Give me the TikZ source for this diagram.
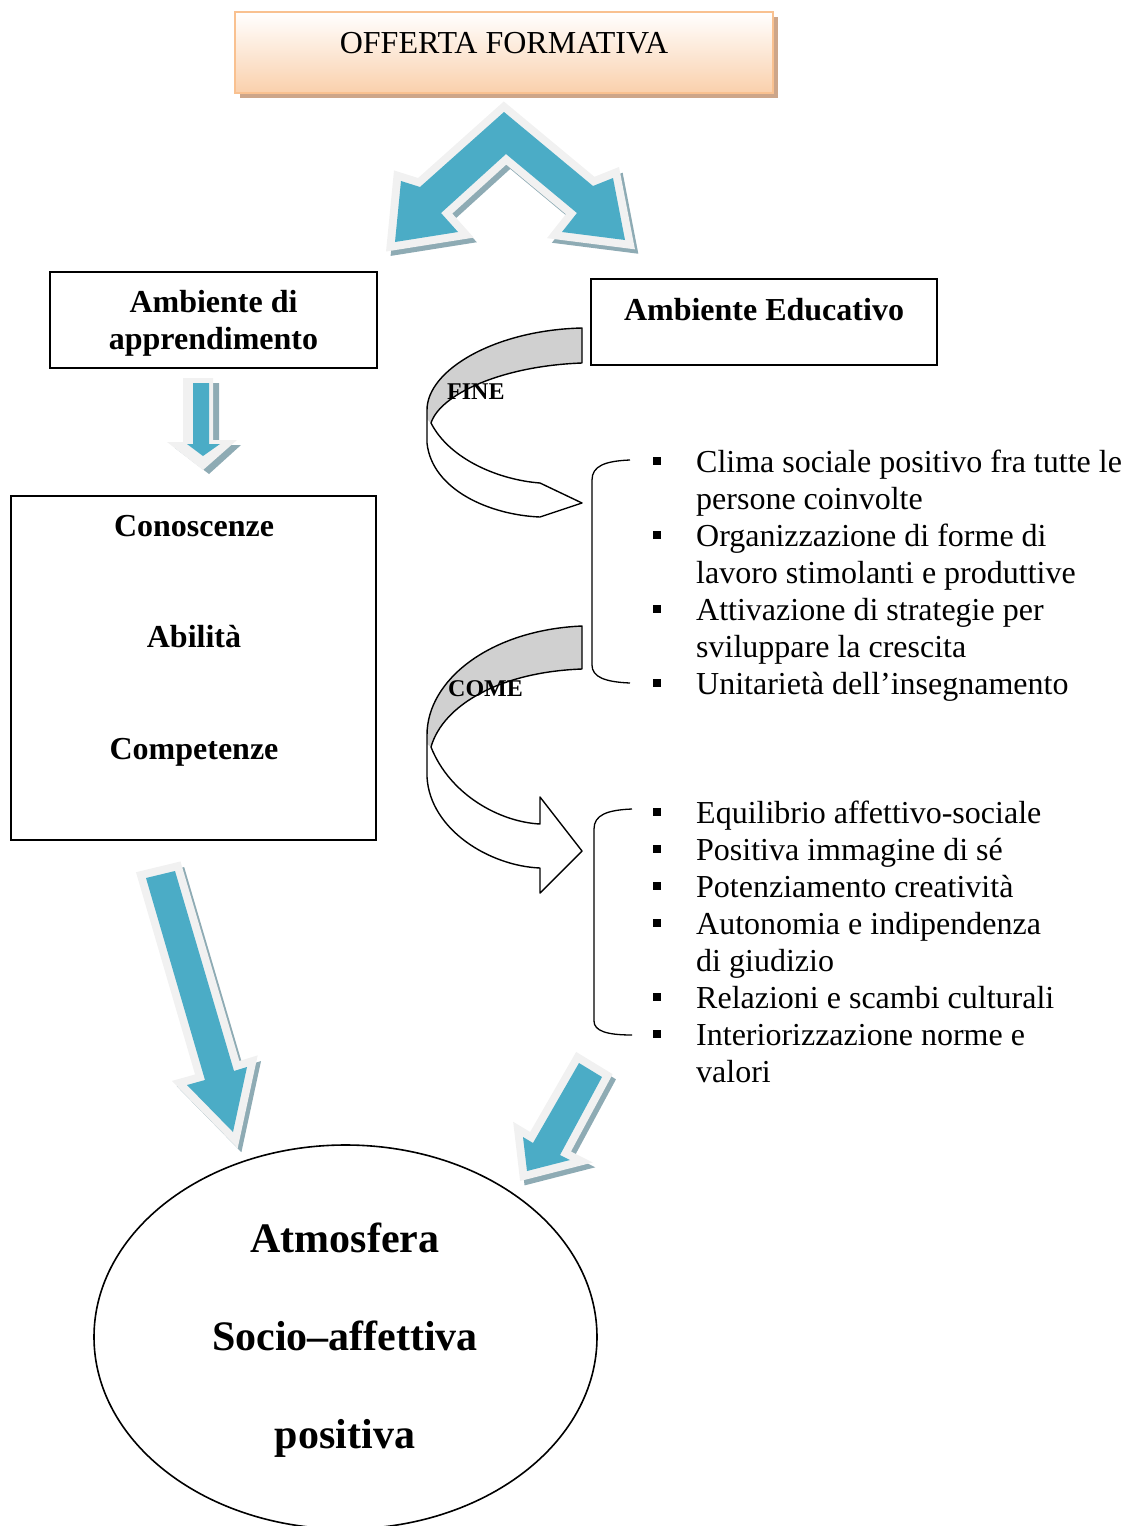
\documentclass[tikz,border=0pt]{standalone}
\usepackage{fontspec}
\setmainfont{Liberation Serif}
\usetikzlibrary{shapes.geometric,shadows}
\definecolor{arrowblue}{HTML}{4BACC6}
\definecolor{arrowrim}{HTML}{F1F1F1}
\definecolor{arrowshade}{HTML}{8EABB4}
\definecolor{peach}{HTML}{FAD0AC}
\definecolor{peachline}{HTML}{F9C190}
\definecolor{tanshade}{HTML}{CDA68A}
\definecolor{bandgray}{HTML}{D0D0D0}
\newcommand\bodyfont{\fontsize{32}{37}\selectfont}
\newcommand\labfont{\fontsize{24}{28}\selectfont\bfseries}
\newcommand\bigfont{\fontsize{42}{48}\selectfont\bfseries}
\newcommand\sqbullet{\makebox[43pt][l]{\rule[7pt]{8pt}{8pt}}}
\begin{document}
\begin{tikzpicture}[x=1pt,y=-1pt,
  fatarrow/.style={fill=arrowblue, line join=miter, miter limit=20,
    preaction={draw=arrowshade, fill=arrowshade, line width=15pt, line join=miter, miter limit=20,
      transform canvas={shift={(4pt,-5pt)}}},
    preaction={draw=arrowrim, line width=16pt, line join=miter, miter limit=20}},
  plainbox/.style={draw=black, line width=1.6pt, inner sep=0pt, fill=white},
  txt/.style={inner sep=0pt, anchor=base, font=\bodyfont},
  btxt/.style={inner sep=0pt, anchor=base, font=\bodyfont\bfseries},
  item/.style={inner sep=0pt, anchor=base west, font=\bodyfont},
  band/.style={draw=black, line width=1.4pt, line join=round}
]
\useasboundingbox (0,0) rectangle (1125,1526);
\clip (0,0) rectangle (1125,1526);

% heading box
\node[draw=peachline, line width=2.5pt, top color=white, bottom color=peach,
  minimum width=538pt, minimum height=81pt, inner sep=0pt,
  drop shadow={shadow xshift=5pt, shadow yshift=-5pt, fill=tanshade, opacity=1}]
  (offerta) at (504,52.5) {};
\node[txt] (offertatxt) at (504,53) {OFFERTA FORMATIVA};

% double arrow under the heading
\path[fatarrow] (504,112) -- (593,186) -- (613,178) -- (625,240) -- (562,232)
  -- (577,213) -- (506,154) -- (441,213) -- (458,232) -- (395,242)
  -- (401,181) -- (420,187) -- cycle;

% two environment boxes
\node[plainbox, minimum width=327pt, minimum height=96pt] (ambapp) at (213.5,320) {};
\node[btxt] (ambapp1) at (213.5,312) {Ambiente di};
\node[btxt] (ambapp2) at (213.5,349) {apprendimento};
\node[plainbox, minimum width=346pt, minimum height=86pt] (ambedu) at (764,322) {};
\node[btxt] (ambedutxt) at (764,320) {Ambiente Educativo};

% small down arrow
\fill[arrowshade] (189,383) -- (219,383) -- (219,445) -- (241,445) -- (209,474) -- (175,448) -- (189,448) -- cycle;
\fill[arrowrim] (183,378) -- (213,378) -- (213,440) -- (237,440) -- (203,470) -- (167,442) -- (183,442) -- cycle;
\fill[arrowblue] (193,383) -- (209,383) -- (209,444) -- (220,444) -- (203,456) -- (187,444) -- (193,444) -- cycle;

% knowledge box
\node[plainbox, minimum width=365pt, minimum height=344pt] (sapere) at (193.5,668) {};
\node[btxt] (conosc) at (194,536) {Conoscenze};
\node[btxt] (abil) at (194,647) {Abilità};
\node[btxt] (compet) at (194,759) {Competenze};

% curved arrow "FINE"
\fill[bandgray] (582,328) .. controls (495,330) and (427,370) .. (427,410)
  -- (427,419) -- (431,423) .. controls (440,395) and (500,366) .. (582,363) -- cycle;
\draw[band] (582,328) .. controls (495,330) and (427,370) .. (427,410) -- (427,443)
  .. controls (432,490) and (490,515) .. (540,517) -- (582,503) -- (540,483)
  .. controls (500,480) and (450,460) .. (431,423)
  .. controls (440,395) and (500,366) .. (582,363) -- cycle;
\node[inner sep=0pt, anchor=base west, font=\labfont] (fine) at (447,399) {FINE};

% curved arrow "COME"
\fill[bandgray] (582,626) .. controls (490,630) and (427,680) .. (427,735)
  -- (427,744) -- (431,747) .. controls (443,705) and (500,672) .. (582,669) -- cycle;
\draw[band] (582,626) .. controls (490,630) and (427,680) .. (427,735) -- (427,777)
  .. controls (430,830) and (490,866) .. (540,868) -- (540,893) -- (582,851)
  -- (540,797) -- (540,824) .. controls (500,822) and (450,795) .. (431,747)
  .. controls (443,705) and (500,672) .. (582,669) -- cycle;
\node[inner sep=0pt, anchor=base west, font=\labfont] (come) at (448,696) {COME};

% brackets
\draw[line width=1.3pt] (630,460) .. controls (605,461) and (592,466) .. (592,480)
  -- (592,665) .. controls (592,677) and (605,682) .. (630,683);
\draw[line width=1.3pt] (632,809) .. controls (607,810) and (594,815) .. (594,829)
  -- (594,1021) .. controls (594,1031) and (607,1035) .. (632,1035);

% first list
\node[item] (f1) at (653,472) {\sqbullet Clima sociale positivo fra tutte le};
\node[item] (f1b) at (696,509) {persone coinvolte};
\node[item] (f2) at (653,546) {\sqbullet Organizzazione di forme di};
\node[item] (f2b) at (696,583) {lavoro stimolanti e produttive};
\node[item] (f3) at (653,620) {\sqbullet Attivazione di strategie per};
\node[item] (f3b) at (696,657) {sviluppare la crescita};
\node[item] (f4) at (653,694) {\sqbullet Unitarietà dell’insegnamento};

% second list
\node[item] (c1) at (653,823) {\sqbullet Equilibrio affettivo-sociale};
\node[item] (c2) at (653,860) {\sqbullet Positiva immagine di sé};
\node[item] (c3) at (653,897) {\sqbullet Potenziamento creatività};
\node[item] (c4) at (653,934) {\sqbullet Autonomia e indipendenza};
\node[item] (c4b) at (696,971) {di giudizio};
\node[item] (c5) at (653,1008) {\sqbullet Relazioni e scambi culturali};
\node[item] (c6) at (653,1045) {\sqbullet Interiorizzazione norme e};
\node[item] (c6b) at (696,1082) {valori};

% arrows into the atmosphere
\path[fatarrow] (146,878) -- (175,871) -- (234,1071) -- (247,1067) -- (233,1132)
  -- (187,1085) -- (205,1080) -- cycle;
\path[fatarrow] (579,1063) -- (602,1077) -- (560,1155) -- (570,1160) -- (527,1171)
  -- (523,1137) -- (533,1143) -- cycle;

% final ellipse
\node[ellipse, draw=black, line width=1.6pt, minimum width=503pt, minimum height=384pt, inner sep=0pt]
  (atmo) at (345.5,1337) {};
\node[inner sep=0pt, anchor=base, font=\bigfont] (atmo1) at (345,1252) {Atmosfera};
\node[inner sep=0pt, anchor=base, font=\bigfont] (atmo2) at (345,1350) {Socio–affettiva};
\node[inner sep=0pt, anchor=base, font=\bigfont] (atmo3) at (345,1448) {positiva};
\end{tikzpicture}
\end{document}
